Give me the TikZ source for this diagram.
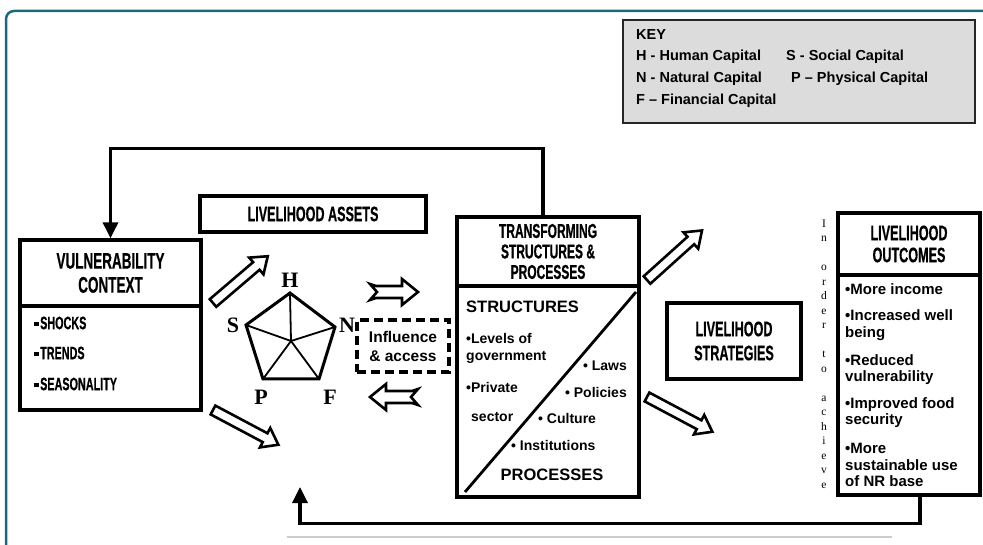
\documentclass[tikz,border=0pt]{standalone}
\usepackage{fontspec}
\setmainfont{Liberation Sans}
\newfontfamily\condfont{Liberation Sans Bold}[FakeStretch=0.6,FakeBold=0.6]
\newfontfamily\timesbold{Liberation Serif Bold}
\newfontfamily\timesreg{Liberation Serif}
\usetikzlibrary{arrows.meta}
\definecolor{frameteal}{HTML}{1F6A78}
\definecolor{keygray}{HTML}{DCDCDC}
\newcommand{\sqbul}{\rule[3pt]{4.5pt}{4.5pt}\hspace{1.5pt}}

\tikzset{
  box/.style={draw, line width=3.4pt, inner sep=0pt, align=center},
  heading/.style={font=\condfont\fontsize{21}{23}\selectfont},
  bullettext/.style={font=\condfont\fontsize{18}{20}\selectfont, anchor=west, inner sep=0pt},
  boldtext/.style={font=\bfseries\fontsize{14}{17}\selectfont, align=left, inner sep=0pt},
  keytext/.style={font=\bfseries\fontsize{14.5}{16}\selectfont, anchor=west, inner sep=0pt},
  capletter/.style={font=\timesbold\fontsize{22}{22}\selectfont, inner sep=0pt},
  loopline/.style={line width=3.4pt, -{Triangle[length=16pt,width=15pt]}},
  arrowline/.style={draw, line width=2.6pt, fill=white, line join=miter},
  pics/fatarrow/.style={code={
    \draw[arrowline] (0,-5) -- (#1-15,-5) -- (#1-15,-11) -- (#1,0)
      -- (#1-15,11) -- (#1-15,5) -- (0,5) -- cycle;}},
  pics/notcharrow/.style={code={
    \draw[arrowline] (0,-8) -- (6,-6) -- (#1-16,-6) -- (#1-16,-13) -- (#1,0)
      -- (#1-16,13) -- (#1-16,6) -- (6,6) -- (0,8) -- (7,0) -- cycle;}},
}

\begin{document}
\begin{tikzpicture}[x=1pt,y=-1pt]
\useasboundingbox (0,0) rectangle (983,545);

% slide frame
\draw[frameteal, line width=2.5pt, rounded corners=8pt] (6,600) |- (1040,11);

% key
\node[draw=black!85, fill=keygray, line width=2.2pt, minimum width=352pt, minimum height=103pt] (key) at (799,71.5) {};
\node[keytext] (keyhead) at (636,35) {KEY};
\node[keytext] (keyH) at (636,57) {H - Human Capital};
\node[keytext] (keyN) at (636,79) {N - Natural Capital};
\node[keytext] (keyF) at (636,101) {F – Financial Capital};
\node[keytext] (keyS) at (786,57) {S - Social Capital};
\node[keytext] (keyP) at (791,79) {P – Physical Capital};

% vulnerability context
\node[box, heading, font=\condfont\fontsize{22.5}{24}\selectfont, minimum width=181pt, minimum height=66pt] (vctitle) at (110.5,273) {VULNERABILITY\\CONTEXT};
\node[box, minimum width=181pt, minimum height=104pt] (vcbody) at (110.5,358) {};
\node[bullettext] (shocks) at (34,323) {\sqbul SHOCKS};
\node[bullettext] (trends) at (34,353) {\sqbul TRENDS};
\node[bullettext] (season) at (34,384) {\sqbul SEASONALITY};

% livelihood assets
\node[box, heading, minimum width=226pt, minimum height=36pt] (assets) at (313,214) {LIVELIHOOD ASSETS};
\coordinate (H) at (290,293);
\coordinate (N) at (335,327);
\coordinate (F) at (319,379);
\coordinate (P) at (263,379);
\coordinate (S) at (246,325);
\coordinate (ctr) at (291,341);
\draw[line width=3pt, line join=miter] (H) -- (N) -- (F) -- (P) -- (S) -- cycle;
\foreach \v in {H,N,F,P,S}
  \draw[line width=1.8pt] (ctr) -- (\v);
\node[capletter] (lblH) at (290,280) {H};
\node[capletter] (lblN) at (347,325) {N};
\node[capletter] (lblF) at (330,397) {F};
\node[capletter] (lblP) at (261,397) {P};
\node[capletter] (lblS) at (233,325) {S};

\pic[rotate=40.5] at (213,303) {fatarrow=72};
\pic[rotate=-28] at (213,410) {fatarrow=74};

% influence and access
\node[box, dash pattern=on 9pt off 5pt, font=\bfseries\fontsize{15.5}{19}\selectfont, minimum width=92pt, minimum height=52pt] (influence) at (403,346) {Influence\\\& access};
\pic at (370,292) {notcharrow=48};
\pic[rotate=180] at (418,397) {notcharrow=48};

% transforming structures and processes
\node[box, heading, font=\condfont\fontsize{20}{20.5}\selectfont, minimum width=182pt, minimum height=69pt] (tsptitle) at (548,251.5) {TRANSFORMING\\STRUCTURES \&\\PROCESSES};
\node[box, minimum width=182pt, minimum height=211pt] (tspbody) at (548,391.5) {};
\draw[line width=2.8pt] (465,492) -- (636,292);
\node[boldtext, font=\bfseries\fontsize{16.5}{18}\selectfont, anchor=west] (structures) at (466,307) {STRUCTURES};
\node[boldtext, anchor=west] (levels) at (466,348) {•Levels of\\government};
\node[boldtext, anchor=west] (private) at (466,387) {•Private};
\node[boldtext, anchor=west] (sector) at (471,417) {sector};
\node[boldtext, anchor=east] (laws) at (627,366) {• Laws};
\node[boldtext, anchor=east] (policies) at (627,392) {• Policies};
\node[boldtext, anchor=west] (culture) at (538,418) {• Culture};
\node[boldtext, anchor=west] (institutions) at (511,445) {• Institutions};
\node[boldtext, font=\bfseries\fontsize{16.5}{18}\selectfont] (processes) at (552,475) {PROCESSES};

\pic[rotate=42] at (647,280) {fatarrow=74};
\pic[rotate=-28] at (647,397) {fatarrow=74};

% livelihood strategies
\node[box, heading, font=\condfont\fontsize{21}{24}\selectfont, minimum width=134pt, minimum height=76pt] (strategies) at (734,341) {LIVELIHOOD\\STRATEGIES};

\node[font=\timesreg\fontsize{11.5}{14.5}\selectfont, align=center, inner sep=0pt] (achieve) at (824,354) {I\\n\\[14.5pt]o\\r\\d\\e\\r\\[14.5pt]t\\o\\[14.5pt]a\\c\\h\\i\\e\\v\\e};

% livelihood outcomes
\node[box, heading, font=\condfont\fontsize{21}{22}\selectfont, minimum width=142pt, minimum height=62pt] (lotitle) at (909,244) {LIVELIHOOD\\OUTCOMES};
\node[box, minimum width=142pt, minimum height=220pt] (lobody) at (909,385) {};
\node[boldtext, font=\bfseries\fontsize{15}{16.5}\selectfont, anchor=west] (income) at (845,289) {•More income};
\node[boldtext, font=\bfseries\fontsize{15}{16.5}\selectfont, anchor=west] (wellbeing) at (845,325) {•Increased well\\being};
\node[boldtext, font=\bfseries\fontsize{15}{16.5}\selectfont, anchor=west] (reduced) at (845,369.5) {•Reduced\\vulnerability};
\node[boldtext, font=\bfseries\fontsize{15}{16.5}\selectfont, anchor=west] (food) at (845,412.5) {•Improved food\\security};
\node[boldtext, font=\bfseries\fontsize{15}{16.5}\selectfont, anchor=west] (sustain) at (845,465) {•More\\sustainable use\\of NR base};

% feedback loops
\draw[loopline] ([xshift=-5pt]tsptitle.north) -- ++(0,-67) -| (vctitle.north);
\coordinate (feedin) at (300,487);
\draw[loopline] ([xshift=11pt]lobody.south) -- ++(0,27) -| (feedin);

\draw[black!20, line width=1.2pt] (287,537) -- (892,537);
\end{tikzpicture}
\end{document}
